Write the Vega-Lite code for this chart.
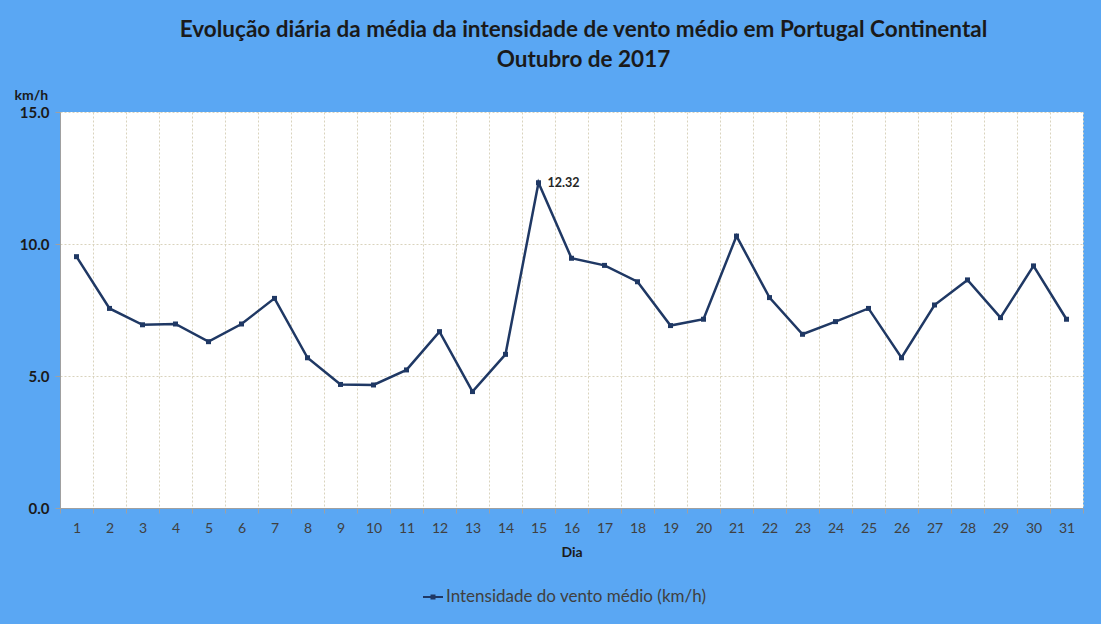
{
  "$schema": "https://vega.github.io/schema/vega-lite/v6.json",
  "width": 1023,
  "height": 396,
  "autosize": {"type": "none"},
  "padding": {"left": 60, "top": 112, "right": 18, "bottom": 116},
  "background": "#5aa7f3",
  "config": {"font": "Lato", "view": {"fill": "white", "stroke": null}},
  "title": {
    "text": ["Evolução diária da média da intensidade de vento médio em Portugal Continental", "Outubro de 2017"],
    "fontSize": 22.5,
    "fontWeight": "bold",
    "color": "#1a1a1a",
    "lineHeight": 30,
    "anchor": "middle",
    "dx": 12,
    "offset": 17
  },
  "data": {
    "values": [
      {"dia": 1, "valor": 9.52, "serie": "Intensidade do vento médio (km/h)"},
      {"dia": 2, "valor": 7.56, "serie": "Intensidade do vento médio (km/h)"},
      {"dia": 3, "valor": 6.94, "serie": "Intensidade do vento médio (km/h)"},
      {"dia": 4, "valor": 6.97, "serie": "Intensidade do vento médio (km/h)"},
      {"dia": 5, "valor": 6.30, "serie": "Intensidade do vento médio (km/h)"},
      {"dia": 6, "valor": 6.97, "serie": "Intensidade do vento médio (km/h)"},
      {"dia": 7, "valor": 7.94, "serie": "Intensidade do vento médio (km/h)"},
      {"dia": 8, "valor": 5.69, "serie": "Intensidade do vento médio (km/h)"},
      {"dia": 9, "valor": 4.68, "serie": "Intensidade do vento médio (km/h)"},
      {"dia": 10, "valor": 4.66, "serie": "Intensidade do vento médio (km/h)"},
      {"dia": 11, "valor": 5.23, "serie": "Intensidade do vento médio (km/h)"},
      {"dia": 12, "valor": 6.68, "serie": "Intensidade do vento médio (km/h)"},
      {"dia": 13, "valor": 4.41, "serie": "Intensidade do vento médio (km/h)"},
      {"dia": 14, "valor": 5.82, "serie": "Intensidade do vento médio (km/h)"},
      {"dia": 15, "valor": 12.32, "serie": "Intensidade do vento médio (km/h)"},
      {"dia": 16, "valor": 9.46, "serie": "Intensidade do vento médio (km/h)"},
      {"dia": 17, "valor": 9.19, "serie": "Intensidade do vento médio (km/h)"},
      {"dia": 18, "valor": 8.57, "serie": "Intensidade do vento médio (km/h)"},
      {"dia": 19, "valor": 6.91, "serie": "Intensidade do vento médio (km/h)"},
      {"dia": 20, "valor": 7.15, "serie": "Intensidade do vento médio (km/h)"},
      {"dia": 21, "valor": 10.30, "serie": "Intensidade do vento médio (km/h)"},
      {"dia": 22, "valor": 7.97, "serie": "Intensidade do vento médio (km/h)"},
      {"dia": 23, "valor": 6.58, "serie": "Intensidade do vento médio (km/h)"},
      {"dia": 24, "valor": 7.06, "serie": "Intensidade do vento médio (km/h)"},
      {"dia": 25, "valor": 7.56, "serie": "Intensidade do vento médio (km/h)"},
      {"dia": 26, "valor": 5.69, "serie": "Intensidade do vento médio (km/h)"},
      {"dia": 27, "valor": 7.69, "serie": "Intensidade do vento médio (km/h)"},
      {"dia": 28, "valor": 8.64, "serie": "Intensidade do vento médio (km/h)"},
      {"dia": 29, "valor": 7.21, "serie": "Intensidade do vento médio (km/h)"},
      {"dia": 30, "valor": 9.17, "serie": "Intensidade do vento médio (km/h)"},
      {"dia": 31, "valor": 7.15, "serie": "Intensidade do vento médio (km/h)"}
    ]
  },
  "encoding": {
    "x": {
      "field": "dia",
      "type": "ordinal",
      "scale": {"type": "band", "paddingInner": 0, "paddingOuter": 0},
      "axis": {
        "title": "Dia",
        "titleFontSize": 14,
        "titleFontWeight": "bold",
        "titleColor": "#1a1a1a",
        "titlePadding": 10,
        "labelAngle": 0,
        "labelFontSize": 14,
        "labelColor": "#404040",
        "labelPadding": 8,
        "tickBand": "extent",
        "tickSize": 5,
        "tickColor": "#a0a0a0",
        "domainColor": "#a0a0a0",
        "grid": true,
        "gridColor": "#d9d3bd",
        "gridDash": [2, 2]
      }
    },
    "y": {
      "field": "valor",
      "type": "quantitative",
      "scale": {"domain": [0, 15], "nice": false},
      "axis": {
        "values": [0, 5, 10, 15],
        "format": ".1f",
        "title": "km/h",
        "titleAngle": 0,
        "titleAlign": "left",
        "titleBaseline": "middle",
        "titleX": -46,
        "titleY": -17,
        "titleFontSize": 14,
        "titleFontWeight": "bold",
        "titleColor": "#1a1a1a",
        "labelFontSize": 15,
        "labelFontWeight": "bold",
        "labelColor": "#1a1a1a",
        "labelPadding": 6,
        "tickSize": 5,
        "tickColor": "#a0a0a0",
        "domainColor": "#a0a0a0",
        "grid": true,
        "gridColor": "#d9d3bd",
        "gridDash": [2, 2]
      }
    }
  },
  "layer": [
    {
      "mark": {"type": "line", "strokeWidth": 2.5},
      "encoding": {
        "color": {
          "field": "serie",
          "type": "nominal",
          "scale": {"range": ["#1f3864"]},
          "legend": {
            "title": null,
            "orient": "none",
            "legendX": 362,
            "legendY": 474,
            "direction": "horizontal",
            "labelFontSize": 17,
            "labelColor": "#404040",
            "labelLimit": 400,
            "symbolType": "M-1,0L1,0M-0.15,-0.15L0.15,-0.15L0.15,0.15L-0.15,0.15Z",
            "symbolSize": 400,
            "symbolStrokeWidth": 2,
            "symbolFillColor": "#1f3864",
            "symbolStrokeColor": "#1f3864",
            "labelOffset": 2
          }
        }
      }
    },
    {
      "mark": {"type": "point", "shape": "square", "filled": true, "size": 25, "color": "#1f3864", "opacity": 1}
    },
    {
      "transform": [{"filter": "datum.dia == 15"}],
      "mark": {"type": "text", "align": "left", "baseline": "middle", "dx": 9, "fontSize": 12.5, "fontWeight": "bold", "color": "#262626"},
      "encoding": {"text": {"field": "valor", "type": "quantitative", "format": ".2f"}}
    }
  ]
}
